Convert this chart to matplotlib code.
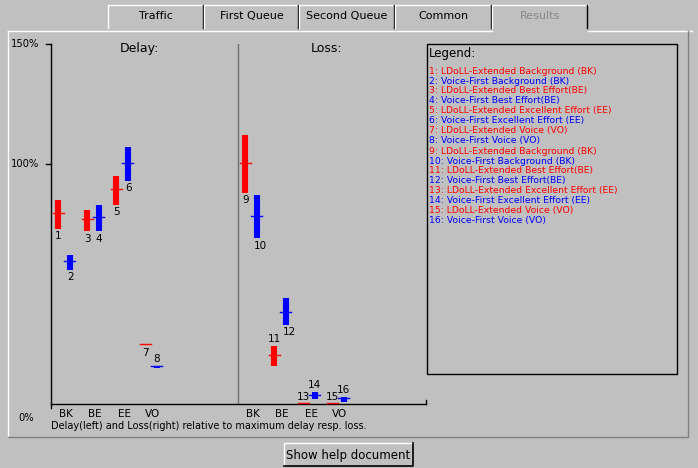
import matplotlib
matplotlib.use("Agg")
import matplotlib.pyplot as plt
from matplotlib.patches import Rectangle

# -----------------------------
# DATA (percent of maximum)
# -----------------------------
categories = ["BK", "BE", "EE", "VO"]
series_names = ["LDoLL-Extended", "Voice-First"]
class_names = ["Background (BK)", "Best Effort(BE)", "Excellent Effort (EE)", "Voice (VO)"]

# per category: [LDoLL, Voice-First]
delay_mid = [[79, 59], [76.5, 77.4], [89, 100], [24.8, 15.3]]
delay_low = [[73, 56], [72, 72], [83, 93], [24.5, 15.1]]
delay_high = [[85, 62], [81, 83], [95, 107], [25.2, 15.8]]

loss_mid = [[100, 78], [20, 38], [0, 3.3], [0, 2]]
loss_low = [[88, 69], [16, 33], [0, 2.2], [0, 1]]
loss_high = [[112, 87], [24, 44], [0, 5], [0, 3]]

BG = "#c0c0c0"
COLORS = ["#ff0000", "#0000ff"]
W, H = 698, 468

fig = plt.figure(figsize=(W / 100, H / 100), dpi=100, facecolor=BG)
ui = fig.add_axes([0, 0, 1, 1])
ui.set_xlim(0, W)
ui.set_ylim(H, 0)
ui.axis("off")
ui.set_facecolor(BG)

FS = 7.5

# -----------------------------
# UI: tabs, panel, button
# -----------------------------
tabs = [("Traffic", 108, 204), ("First Queue", 204, 299), ("Second Queue", 299, 395),
        ("Common", 395, 492), ("Results", 492, 588)]
for name, x0, x1 in tabs:
    ui.plot([x0, x0, x1], [28, 5, 5], color="white", lw=1)
    ui.plot([x1 - 1, x1 - 1], [5, 28], color="black", lw=1)
    col = "#888888" if name == "Results" else "black"
    ui.text((x0 + x1) / 2, 16, name, ha="center", va="center", fontsize=FS + 0.5, color=col)

ui.plot([8, 492], [31, 31], color="white", lw=1)
ui.plot([588, 692], [31, 31], color="white", lw=1)
ui.plot([8, 8], [31, 437], color="white", lw=1)
ui.plot([8, 688, 688], [437, 437, 31], color="#808080", lw=1)

ui.add_patch(Rectangle((284, 443), 129, 23, fc=BG, ec="none"))
ui.plot([284, 284, 413], [466, 443, 443], color="white", lw=1)
ui.plot([284, 413, 413], [466, 466, 443], color="black", lw=1.2)
ui.text(348.5, 455, "Show help document", ha="center", va="center", fontsize=FS + 1)

# legend box
ui.add_patch(Rectangle((427, 44), 250, 330, fc="none", ec="black", lw=1))
ui.text(429, 54, "Legend:", ha="left", va="center", fontsize=FS + 1)
n = 1
for block in range(2):
    for c in class_names:
        for s in range(2):
            ui.text(429, 71 + (n - 1) * 10, f"{n}: {series_names[s]} {c}", ha="left",
                    va="center", fontsize=FS - 0.8, color=COLORS[s])
            n += 1

# -----------------------------
# CHART
# -----------------------------
px_l, px_r, px_t, px_b = 51, 426, 44, 404
ax = fig.add_axes([px_l / W, 1 - px_b / H, (px_r - px_l) / W, (px_b - px_t) / H])
ax.set_facecolor("none")
x0_px, step = 64, 29
ax.set_xlim((px_l - x0_px) / step, (px_r - x0_px) / step)
ax.set_ylim(0, 150)
for sp in ["top", "right"]:
    ax.spines[sp].set_visible(False)
ax.spines["left"].set_linewidth(1)
ax.spines["bottom"].set_linewidth(1)
ax.set_xticks([])
ax.set_yticks([])
ax.plot([ax.get_xlim()[1]] * 2, [0, 1.5], color="black", lw=1, clip_on=False)

loss_start = (251 - x0_px) / step
divider = (238 - x0_px) / step
ax.axvline(divider, color="#707070", lw=1)

ax.text(2.6, 148, "Delay:", ha="center", va="center", fontsize=FS + 1.5)
ax.text(loss_start + 2.6, 148, "Loss:", ha="center", va="center", fontsize=FS + 1.5)

ui.text(39, 44, "150%", ha="right", va="center", fontsize=FS - 0.3)
ui.text(39, 164, "100%", ha="right", va="center", fontsize=FS - 0.3)
ui.text(34, 418, "0%", ha="right", va="center", fontsize=FS - 0.3)
ui.plot([46, 51], [44, 44], color="black", lw=1)
ui.plot([46, 51], [164, 164], color="black", lw=1)
ui.plot([51, 51], [404, 408], color="black", lw=1)
ui.text(51, 426, "Delay(left) and Loss(right) relative to maximum delay resp. loss.",
        ha="left", va="center", fontsize=FS - 0.5)

above = {8, 11, 13, 14, 15, 16}
offs = [-0.2, 0.2]
n = 1
for base, mid, low, high in [(0, delay_mid, delay_low, delay_high),
                             (loss_start, loss_mid, loss_low, loss_high)]:
    for i, cat in enumerate(categories):
        xc = base + i
        ax.text(xc + 0.07, -4, cat, ha="center", va="center", fontsize=FS, clip_on=False)
        for s in range(2):
            x = xc + offs[s]
            ax.plot([x, x], [low[i][s], high[i][s]], color=COLORS[s], lw=4.4,
                    solid_capstyle="butt")
            ax.plot([x - 0.19, x + 0.19], [mid[i][s] + 0.4] * 2, color=COLORS[s], lw=1,
                    clip_on=False, zorder=3)
            if n in above:
                ax.text(x, high[i][s] + 0.8, str(n), ha="center", va="bottom", fontsize=FS)
            else:
                ax.text(x - 0.1, low[i][s] - 1, str(n), ha="left", va="top", fontsize=FS)
            n += 1

fig.savefig("out.png", dpi=100, facecolor=BG)
